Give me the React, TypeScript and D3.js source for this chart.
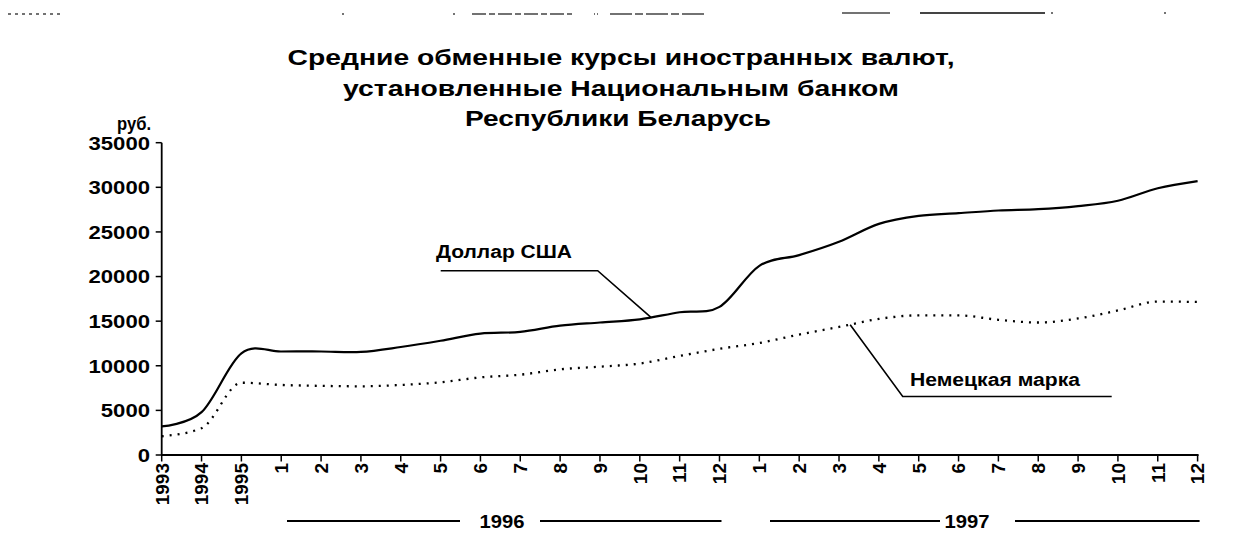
import React from "react";
import * as d3 from "d3";

const categories: string[] = [
  "1993", "1994", "1995",
  "1", "2", "3", "4", "5", "6", "7", "8", "9", "10", "11", "12",
  "1", "2", "3", "4", "5", "6", "7", "8", "9", "10", "11", "12",
];

const usdValues: number[] = [
  3200, 4800, 11400,
  11600, 11600, 11550, 12100, 12800, 13600, 13800, 14500, 14850, 15200, 16000, 16600,
  21200, 22400, 23900, 25900, 26800, 27100, 27400, 27550, 27900, 28500, 29900, 30700,
];

const dmValues: number[] = [
  2100, 3000, 8100,
  7850, 7750, 7700, 7850, 8150, 8700, 9000, 9600, 9900, 10250, 11100, 11900,
  12550, 13500, 14350, 15250, 15650, 15650, 15150, 14850, 15300, 16200, 17200, 17150,
];

const yTicks: number[] = [0, 5000, 10000, 15000, 20000, 25000, 30000, 35000];

const yearGroups = [
  { label: "1996", first: 3, last: 14 },
  { label: "1997", first: 15, last: 26 },
];

const titleLines: string[] = [
  "Средние обменные курсы иностранных валют,",
  "установленные Национальным банком",
  "Республики Беларусь",
];

const FONT = "'Liberation Sans', Arial, sans-serif";

export default function App() {
  const W = 1234;
  const H = 560;
  const idx = d3.range(categories.length);
  const x = d3.scalePoint<number>().domain(idx).range([161.7, 1197.6]);
  const y = d3.scaleLinear().domain([0, 35000]).range([455, 142.7]);
  const step = x.step();

  const usdLine = d3
    .line<number>()
    .x((_, i) => x(i) as number)
    .y((d) => y(d))
    .curve(d3.curveCardinal.tension(0));
  const dmLine = d3
    .line<number>()
    .x((_, i) => x(i) as number)
    .y((d) => y(d))
    .curve(d3.curveMonotoneX);

  // leader anchor points along the series
  const usdT = 0.28;
  const usdAx = (x(12) as number) + usdT * step;
  const usdAy = y(usdValues[12] + usdT * (usdValues[13] - usdValues[12]));
  const dmT = 0.28;
  const dmAx = (x(17) as number) + dmT * step;
  const dmAy = y(dmValues[17] + dmT * (dmValues[18] - dmValues[17]));

  const x0 = x(0) as number;
  const xEnd = x(categories.length - 1) as number;

  // layout of group labels: [left line start, left line end, text center, right line start]
  const groupLayout = [
    { ls: 287, le: 460, c: 502, rs: 540 },
    { ls: 770, le: 940, c: 967, rs: 1015 },
  ];

  return (
    <svg
      width={W}
      height={H}
      style={{ position: "absolute", left: 0, top: 0, background: "#fff" }}
      fontFamily={FONT}
    >
      <rect x={0} y={0} width={W} height={H} fill="#fff" />
      {/* scan artifacts at the top */}
      <g stroke="#444" strokeWidth={1.4}>
        <line x1={8} x2={62} y1={14} y2={14} strokeDasharray="3 4" />
        <line x1={342} x2={344} y1={14} y2={14} />
        <line x1={453} x2={455} y1={14} y2={14} />
        <line x1={472} x2={572} y1={14} y2={14} strokeDasharray="14 3 6 3" />
        <line x1={594} x2={599} y1={14} y2={14} strokeDasharray="1 2" />
        <line x1={610} x2={705} y1={14} y2={14} strokeDasharray="22 3 8 3" />
        <line x1={842} x2={890} y1={13} y2={13} />
        <line x1={920} x2={1045} y1={13} y2={13} strokeWidth={1.8} />
        <line x1={1051} x2={1053} y1={13} y2={13} />
        <line x1={1164} x2={1166} y1={13} y2={13} />
      </g>

      {/* title */}
      <g fontWeight="bold" fontSize={22} fill="#000" textAnchor="middle">
        <text x={621} y={65} textLength={667} lengthAdjust="spacingAndGlyphs">
          {titleLines[0]}
        </text>
        <text x={621} y={96} textLength={556} lengthAdjust="spacingAndGlyphs">
          {titleLines[1]}
        </text>
        <text x={618} y={126} textLength={306} lengthAdjust="spacingAndGlyphs">
          {titleLines[2]}
        </text>
      </g>

      {/* y axis unit */}
      <text x={117} y={130} fontWeight="bold" fontSize={18} textLength={34} lengthAdjust="spacingAndGlyphs">
        руб.
      </text>

      {/* y axis */}
      <line x1={x0} x2={x0} y1={y(35000)} y2={y(0)} stroke="#000" strokeWidth={1.8} />
      {yTicks.map((t) => {
        const label = String(t);
        return (
          <g key={t}>
            <line x1={x0 - 6} x2={x0} y1={y(t)} y2={y(t)} stroke="#000" strokeWidth={1.5} />
            <text
              x={150}
              y={y(t)}
              dy="0.36em"
              textAnchor="end"
              fontWeight="bold"
              fontSize={19}
              textLength={label.length * 12.3}
              lengthAdjust="spacingAndGlyphs"
            >
              {label}
            </text>
          </g>
        );
      })}

      {/* x axis */}
      <line x1={x0} x2={xEnd + 1} y1={y(0)} y2={y(0)} stroke="#000" strokeWidth={1.8} />
      {idx.map((i) => (
        <g key={i}>
          <line
            x1={x(i) as number}
            x2={x(i) as number}
            y1={y(0)}
            y2={y(0) + 6.5}
            stroke="#000"
            strokeWidth={1.5}
          />
          <text
            transform={`translate(${x(i) as number},${y(0) + 8}) rotate(-90)`}
            textAnchor="end"
            dy="0.36em"
            fontWeight="bold"
            fontSize={19}
          >
            {categories[i]}
          </text>
        </g>
      ))}

      {/* year group labels */}
      {yearGroups.map((g, k) => {
        const L = groupLayout[k];
        return (
          <g key={g.label}>
            <line x1={L.ls} x2={L.le} y1={521} y2={521} stroke="#000" strokeWidth={1.8} />
            <line x1={L.rs} x2={(x(g.last) as number) + 2} y1={521} y2={521} stroke="#000" strokeWidth={1.8} />
            <text x={L.c} y={528} textAnchor="middle" fontWeight="bold" fontSize={19} textLength={45} lengthAdjust="spacingAndGlyphs">
              {g.label}
            </text>
          </g>
        );
      })}

      {/* series */}
      <path d={dmLine(dmValues) || ""} fill="none" stroke="#000" strokeWidth={2.3} strokeDasharray="2 6" />
      <path d={usdLine(usdValues) || ""} fill="none" stroke="#000" strokeWidth={2.2} />

      {/* annotations */}
      <polyline
        points={`440.7,270.7 597.7,270.7 ${usdAx},${usdAy}`}
        fill="none"
        stroke="#000"
        strokeWidth={1.6}
      />
      <text x={436} y={258} fontWeight="bold" fontSize={18} textLength={136} lengthAdjust="spacingAndGlyphs">
        Доллар США
      </text>
      <polyline
        points={`${dmAx},${dmAy} 902.7,396.5 1111.7,396.5`}
        fill="none"
        stroke="#000"
        strokeWidth={1.6}
      />
      <text x={910} y={386} fontWeight="bold" fontSize={18} textLength={170} lengthAdjust="spacingAndGlyphs">
        Немецкая марка
      </text>
    </svg>
  );
}
